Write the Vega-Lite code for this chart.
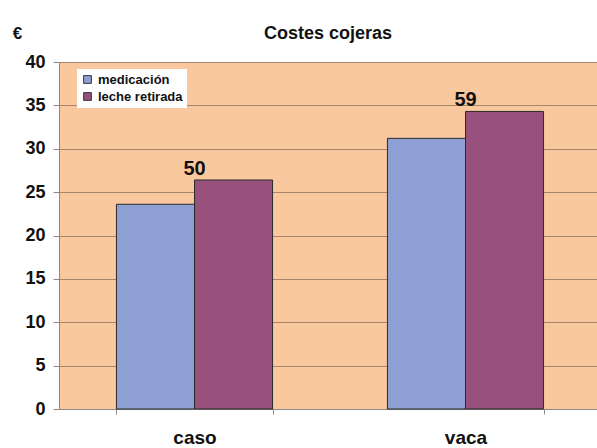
{
  "$schema": "https://vega.github.io/schema/vega-lite/v6.json",
  "autosize": "none",
  "width": 538,
  "height": 347,
  "padding": {"left": 59, "top": 62, "right": 0, "bottom": 39},
  "background": "white",
  "config": {
    "font": "Liberation Sans",
    "view": {"fill": "#F9C89E", "stroke": null}
  },
  "title": {
    "text": "Costes cojeras",
    "fontSize": 18,
    "fontWeight": "bold",
    "color": "#111",
    "anchor": "middle",
    "offset": -19
  },
  "data": {
    "values": [
      {"grupo": "caso", "tipo": "medicación", "valor": 23.6, "etiqueta": ""},
      {"grupo": "caso", "tipo": "leche retirada", "valor": 26.4, "etiqueta": "50"},
      {"grupo": "vaca", "tipo": "medicación", "valor": 31.2, "etiqueta": ""},
      {"grupo": "vaca", "tipo": "leche retirada", "valor": 34.3, "etiqueta": "59"}
    ]
  },
  "encoding": {
    "x": {
      "field": "grupo",
      "type": "nominal",
      "sort": ["caso", "vaca"],
      "scale": {"paddingInner": 0.424, "paddingOuter": 0.212, "range": [0, 542]},
      "axis": {
        "title": null,
        "labelAngle": 0,
        "labelFontSize": 19,
        "labelFontWeight": "bold",
        "labelColor": "#111",
        "labelPadding": 14,
        "domainColor": "#888",
        "tickColor": "#888",
        "tickSize": 5,
        "tickBand": "extent"
      }
    }
  },
  "layer": [
    {
      "mark": {"type": "bar", "stroke": "#2a2a2a", "strokeWidth": 1},
      "encoding": {
        "xOffset": {"field": "tipo", "type": "nominal", "sort": ["medicación", "leche retirada"]},
        "y": {
          "field": "valor",
          "type": "quantitative",
          "scale": {"domain": [0, 40], "nice": false},
          "axis": {
            "title": "€",
            "titleAngle": 0,
            "titleX": -42,
            "titleY": -20,
            "titleFontSize": 17,
            "titleFontWeight": "bold",
            "titleColor": "#111",
            "values": [0, 5, 10, 15, 20, 25, 30, 35, 40],
            "labelFontSize": 18,
            "labelFontWeight": "bold",
            "labelColor": "#111",
            "labelPadding": 8,
            "tickSize": 6,
            "tickColor": "#888",
            "domainColor": "#888",
            "gridColor": "#a8846a",
            "gridWidth": 1
          }
        },
        "color": {
          "field": "tipo",
          "type": "nominal",
          "sort": ["medicación", "leche retirada"],
          "scale": {"domain": ["medicación", "leche retirada"], "range": ["#8E9FD3", "#98517C"]},
          "legend": {
            "title": null,
            "orient": "none",
            "legendX": 18,
            "legendY": 7,
            "fillColor": "white",
            "padding": 4,
            "symbolType": "square",
            "symbolSize": 60,
            "symbolStrokeColor": "#333",
            "symbolStrokeWidth": 1,
            "labelFontSize": 13,
            "labelFontWeight": "bold",
            "labelColor": "#111",
            "labelOffset": 4,
            "rowPadding": 3
          }
        }
      }
    },
    {
      "transform": [{"filter": "datum.etiqueta != ''"}],
      "mark": {"type": "text", "fontSize": 20, "fontWeight": "bold", "color": "#111", "baseline": "bottom", "dy": -1},
      "encoding": {
        "y": {"field": "valor", "type": "quantitative"},
        "text": {"field": "etiqueta"}
      }
    }
  ]
}
